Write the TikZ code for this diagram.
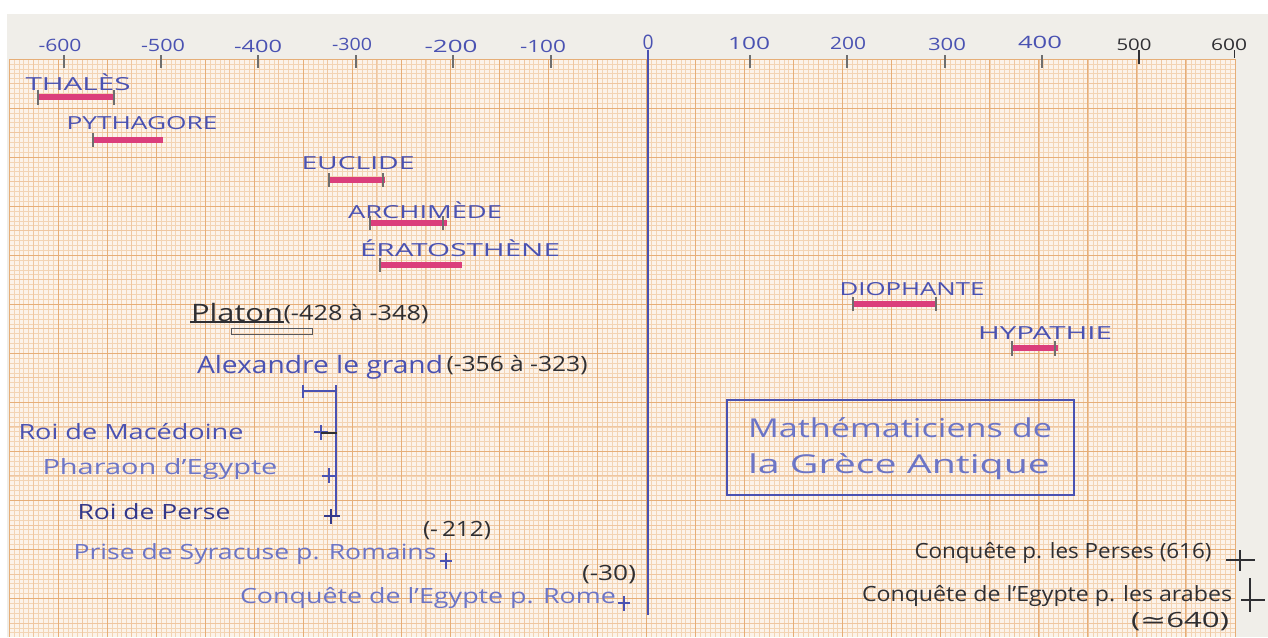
\documentclass[tikz,border=0pt]{standalone}
\usepackage{fontspec}
\setmainfont{Open Sans}
\newfontfamily\symfont{DejaVu Sans}
\usepackage{graphicx}
\newsavebox\fitbox
\newcommand\fw[2]{\sbox\fitbox{#2}\pgfmathsetmacro\fwfac{(#1*0.5)/\the\wd\fitbox}\scalebox{\fwfac}[1]{\usebox\fitbox}}
\definecolor{paper}{HTML}{F0EEE9}
\definecolor{gridbg}{HTML}{FCF3EA}
\definecolor{gfine}{HTML}{F3D4B4}
\definecolor{gmed}{HTML}{EFC6A0}
\definecolor{gmaj}{HTML}{E6AE78}
\definecolor{inkblue}{HTML}{4A52B2}
\definecolor{inklight}{HTML}{6C75C6}
\definecolor{inkdark}{HTML}{33388A}
\definecolor{inkblack}{HTML}{2F2F33}
\definecolor{pinkbar}{HTML}{DB3E7C}
\definecolor{tickgray}{HTML}{6E6E6E}
\begin{document}
\begin{tikzpicture}[x=0.5pt,y=-0.5pt,
  lbl/.style={inner sep=0pt,anchor=center},
  axlbl/.style={lbl,text=inkblue,font=\fontsize{8.5}{10}\selectfont},
  axlblk/.style={lbl,text=inkblack,font=\fontsize{8}{10}\selectfont},
  mname/.style={lbl,text=inkblue,font=\fontsize{9}{11}\selectfont},
  bluetxt/.style={lbl,text=inkblue,font=\fontsize{10.5}{12}\selectfont},
  blacktxt/.style={lbl,text=inkblack,font=\fontsize{10.5}{12}\selectfont},
  pbar/.style={pinkbar,line width=3pt},
  endtick/.style={tickgray,line width=0.6pt},
  axtick/.style={tickgray,line width=1pt},
  finel/.style={gfine,line width=0.3pt},
  medl/.style={gmed,line width=0.35pt},
  majl/.style={gmaj,line width=0.5pt},
  crossmark/.style={line width=0.8pt},
  blueline/.style={inkblue,line width=0.9pt}]
\useasboundingbox (0,0) rectangle (1268,637);
% paper and graph paper
\fill[white] (0,0) rectangle (1268,637);
\fill[paper] (7,14) rectangle (1268,637);
\fill[gridbg] (9,59) rectangle (1235,637);
\foreach \i in {0,...,250}{\draw[finel] ({9+\i*4.904},59) -- ({9+\i*4.904},637);}
\foreach \j in {0,...,117}{\draw[finel] (9,{59+\j*4.904}) -- (1235,{59+\j*4.904});}
\foreach \i in {0,5,...,250}{\draw[medl] ({9+\i*4.904},59) -- ({9+\i*4.904},637);}
\foreach \j in {0,5,...,115}{\draw[medl] (9,{59+\j*4.904}) -- (1235,{59+\j*4.904});}
\foreach \i in {0,10,...,250}{\draw[majl] ({9+\i*4.904},59) -- ({9+\i*4.904},637);}
\foreach \j in {0,10,...,110}{\draw[majl] (9,{59+\j*4.904}) -- (1235,{59+\j*4.904});}
% axis ticks
\foreach \x in {64,161,258,356,453,551,750,847,945,1042}{\draw[axtick] (\x,55) -- (\x,68);}
\draw[inkblack,line width=0.6pt] (1139,50) -- (1139,64);
\draw[inkblack,line width=0.5pt] (1234,50) -- (1234,58);
% axis labels
\node[axlbl] (am600) at (60,45) {\fw{43}{-600}};
\node[axlbl] (am500) at (163,45) {\fw{44}{-500}};
\node[axlbl] (am400) at (258,46) {\fw{48}{-400}};
\node[axlbl] (am300) at (352,44) {\fw{40}{-300}};
\node[axlbl] (am200) at (451,46) {\fw{53}{-200}};
\node[axlbl] (am100) at (543,46) {\fw{46}{-100}};
\node[axlbl,font=\fontsize{10}{12}\selectfont] (a0) at (648,42) {\fw{11}{0}};
\node[axlbl] (a100) at (749,43) {\fw{42}{100}};
\node[axlbl] (a200) at (848,43) {\fw{36}{200}};
\node[axlbl] (a300) at (947,44) {\fw{38}{300}};
\node[axlbl] (a400) at (1040,42) {\fw{44}{400}};
\node[axlblk] (a500) at (1134,45) {\fw{35}{500}};
\node[axlblk] (a600) at (1229,45) {\fw{36}{600}};
% zero line
\coordinate (zend) at (648,615);
\draw[blueline] (a0.south) -- (zend);
% mathematicians
\node[mname] (thales) at (78,82) {\fw{105}{THALÈS}};
\draw[pbar] (38,97) -- (115,97);
\draw[endtick] (38,90) -- (38,105) (114,90) -- (114,105);
\node[mname] (pyth) at (142,123) {\fw{151}{PYTHAGORE}};
\draw[pbar] (93,140) -- (163,140);
\draw[endtick] (93,133) -- (93,147);
\node[mname] (eucl) at (358,163) {\fw{113}{EUCLIDE}};
\draw[pbar] (329,180) -- (385,180);
\draw[endtick] (329,173) -- (329,187) (383,173) -- (383,187);
\node[mname] (arch) at (425,210) {\fw{154}{ARCHIMÈDE}};
\draw[pbar] (370,223) -- (447,223);
\draw[endtick] (370,216) -- (370,230) (443,216) -- (443,230);
\node[mname] (erat) at (460,248) {\fw{200}{ÉRATOSTHÈNE}};
\draw[pbar] (380,265) -- (462,265);
\draw[endtick] (380,258) -- (380,272);
\node[mname] (dioph) at (912,289) {\fw{145}{DIOPHANTE}};
\draw[pbar] (853,304) -- (937,304);
\draw[endtick] (853,297) -- (853,311) (936,297) -- (936,311);
\node[mname] (hypat) at (1045,333) {\fw{134}{HYPATHIE}};
\draw[pbar] (1012,348) -- (1058,348);
\draw[endtick] (1012,341) -- (1012,356) (1055,341) -- (1055,356);
% Platon
\node[blacktxt,font=\fontsize{12}{14}\selectfont] (platon) at (237,312) {\fw{92}{Platon}};
\node[blacktxt] (platond) at (356,314) {\fw{145}{(-428 à -348)}};
\draw[inkblack,line width=0.6pt] (190,322) -- (284,322);
\draw[inkblack!80,line width=0.5pt] (231,328) rectangle (312,334);
% Alexandre
\node[bluetxt,font=\fontsize{12}{14}\selectfont] (alex) at (320,367) {\fw{246}{Alexandre le grand}};
\node[blacktxt] (alexd) at (517,365) {\fw{141}{(-356 à -323)}};
\coordinate (alexa) at (303,391);
\coordinate (alexb) at (336,391);
\coordinate (alexe) at (336,517);
\draw[blueline] (alexa) -- (alexb);
\draw[blueline] (303,385) -- (303,398) (336,385) -- (336,398);
\draw[blueline] (alexb) -- (alexe);
% roles
\node[bluetxt] (maced) at (131,432) {\fw{225}{Roi de Macédoine}};
\node[bluetxt,text=inklight] (phar) at (160,469) {\fw{235}{Pharaon d'Egypte}};
\node[bluetxt,text=inkdark] (perse) at (154,512) {\fw{153}{Roi de Perse}};
\draw[crossmark,inkblue] (321,425) -- (321,440) (314,432) -- (328,432);
\draw[crossmark,inkblack] (321,433) -- (337,433);
\draw[crossmark,inkblue] (329,468) -- (329,483) (322,476) -- (336,476);
\draw[crossmark,inkdark] (331,509) -- (331,524) (324,516) -- (340,516);
% events
\node[bluetxt,text=inklight] (syra) at (255,554) {\fw{363}{Prise de Syracuse p. Romains}};
\node[blacktxt] (syrad) at (457,531) {\fw{68}{(-\,212)}};
\draw[crossmark,inkblue] (446,553) -- (446,569) (440,561) -- (452,561);
\node[bluetxt,text=inklight] (rome) at (428,598) {\fw{376}{Conquête de l'Egypte p. Rome}};
\node[blacktxt] (romed) at (609,575) {\fw{54}{(-30)}};
\draw[crossmark,inkblue] (624,596) -- (624,611) (618,603) -- (630,603);
% right side
\node[blacktxt] (perses) at (1063,553) {\fw{297}{Conquête p. les Perses (616)}};
\draw[crossmark,inkblack,line width=1pt] (1226,560) -- (1255,560) (1240,550) -- (1240,571);
\node[blacktxt] (arabes) at (1047,596) {\fw{370}{Conquête de l'Egypte p. les arabes}};
\node[blacktxt] (arabesd) at (1180,622) {\fw{98}{({\symfont ≃}640)}};
\draw[crossmark,inkblack,line width=1pt] (1250,578) -- (1250,612) (1241,600) -- (1265,600);
% title box
\node[draw=inkblue,line width=0.8pt,minimum width=173.5pt,minimum height=47.5pt,inner sep=0pt] (tbox) at (900.5,447.5) {};
\node[bluetxt,text=inklight,font=\fontsize{13}{15}\selectfont] (t1) at (900,428) {\fw{304}{Mathématiciens de}};
\node[bluetxt,text=inklight,font=\fontsize{13}{15}\selectfont] (t2) at (899,467) {\fw{302}{la Grèce Antique}};
\end{tikzpicture}
\end{document}
